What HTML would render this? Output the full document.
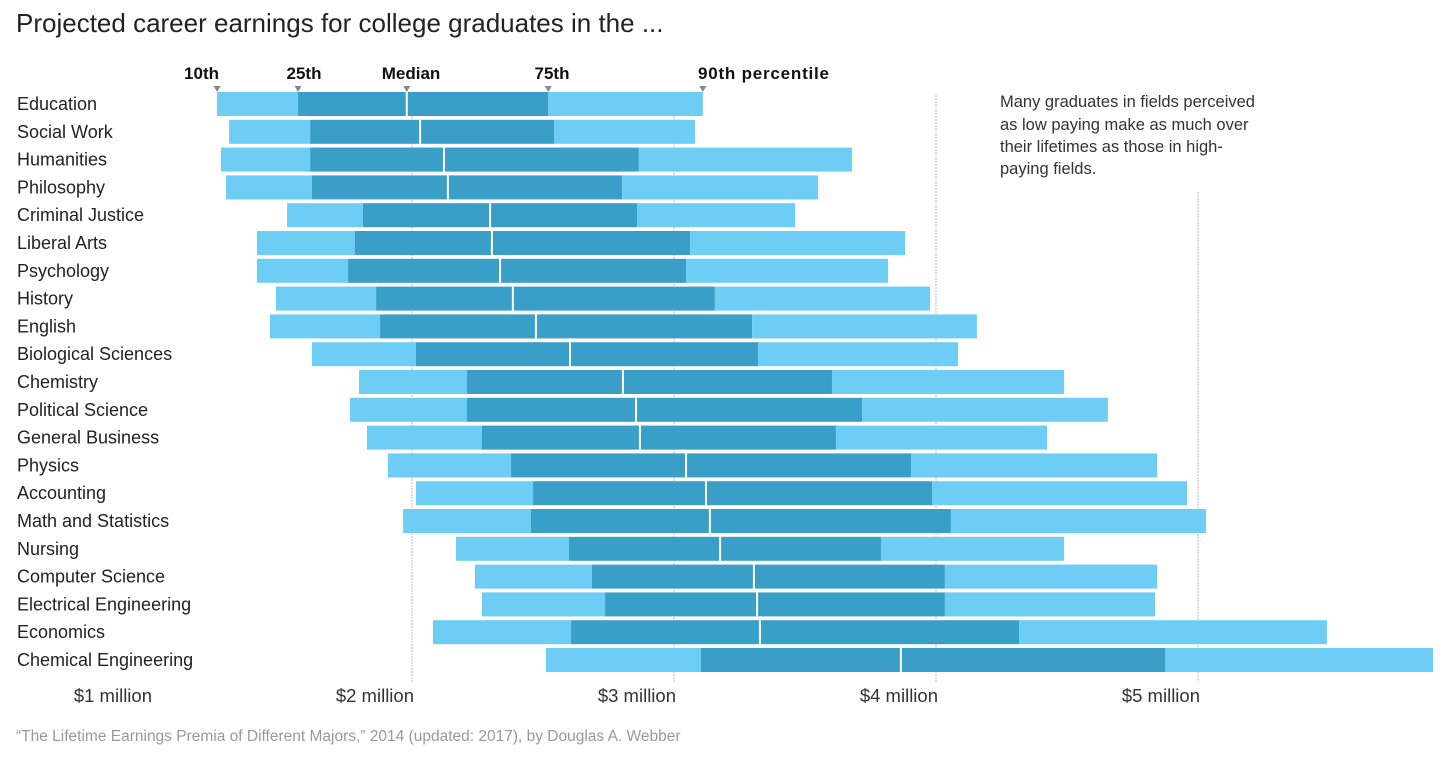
<!DOCTYPE html>
<html><head><meta charset="utf-8"><style>
body{margin:0;background:#fff;width:1454px;height:753px;overflow:hidden;font-family:"Liberation Sans",Arial,sans-serif;}
</style></head><body>
<svg id="chart" width="1454" height="753" xmlns="http://www.w3.org/2000/svg" font-family="Liberation Sans, Arial, sans-serif">
<text x="16" y="32" font-size="26" fill="#222">Projected career earnings for college graduates in the ...</text>
<g id="grid"></g><g id="bars"></g><g id="labels"></g>
<g font-size="17" font-weight="bold" fill="#111">
<text x="219" y="79" text-anchor="end">10th</text><text x="304" y="79" text-anchor="middle">25th</text><text x="411" y="79" text-anchor="middle">Median</text><text x="552" y="79" text-anchor="middle">75th</text><text x="698" y="79" textLength="131">90th percentile</text>
</g>
<g id="tri" fill="#888"></g>
<g font-size="16.5" fill="#333">
<text x="1000" y="107">Many graduates in fields perceived</text>
<text x="1000" y="130">as low paying make as much over</text>
<text x="1000" y="152">their lifetimes as those in high-</text>
<text x="1000" y="174">paying fields.</text>
</g>
<text x="16" y="741" font-size="15.5" fill="#999">“The Lifetime Earnings Premia of Different Majors,” 2014 (updated: 2017), by Douglas A. Webber</text>
</svg>
<script>
const majors=["Education","Social Work","Humanities","Philosophy","Criminal Justice","Liberal Arts","Psychology","History","English","Biological Sciences","Chemistry","Political Science","General Business","Physics","Accounting","Math and Statistics","Nursing","Computer Science","Electrical Engineering","Economics","Chemical Engineering"];
const p10=[1.256,1.302,1.271,1.290,1.523,1.408,1.408,1.481,1.458,1.618,1.798,1.763,1.828,1.908,2.015,1.966,2.168,2.240,2.267,2.080,2.511];
const p25=[1.565,1.611,1.611,1.618,1.813,1.782,1.756,1.863,1.878,2.015,2.210,2.210,2.267,2.378,2.462,2.454,2.599,2.687,2.737,2.607,3.103];
const p50=[1.980,2.031,2.122,2.137,2.298,2.305,2.336,2.385,2.473,2.603,2.805,2.855,2.870,3.046,3.122,3.137,3.176,3.305,3.317,3.328,3.866];
const p75=[2.520,2.542,2.866,2.802,2.859,3.061,3.046,3.156,3.298,3.321,3.603,3.718,3.618,3.905,3.985,4.057,3.790,4.034,4.034,4.317,4.874];
const p90=[3.110,3.080,3.679,3.550,3.462,3.882,3.817,3.977,4.156,4.084,4.489,4.656,4.424,4.844,4.958,5.031,4.489,4.844,4.836,5.492,5.897];
const ticks=[1,2,3,4,5];
const tickLabels=["$1 million","$2 million","$3 million","$4 million","$5 million"];
const NS="http://www.w3.org/2000/svg";
const x=v=>412+(v-2)*262;
const y=i=>104+i*27.8;
function mk(tag,attrs,parent){const e=document.createElementNS(NS,tag);for(const k in attrs)e.setAttribute(k,attrs[k]);document.getElementById(parent).appendChild(e);return e;}
ticks.forEach((t,i)=>{
  if(t>1){const l=mk('line',{x1:x(t),x2:x(t),y1:t==5?192:95,y2:682,stroke:'#bbb','stroke-width':1,'stroke-dasharray':'2,1'},'grid');
  
  }
  const tx=mk('text',{x:x(t)+2,y:702,'text-anchor':'end','font-size':18.5,fill:'#333'},'labels');
  tx.textContent=tickLabels[i];
  
  
});
majors.forEach((m,i)=>{
  const cy=y(i),h=24,top=cy-h/2;
  const segs=[[p10[i],p25[i],'#6dcdf4'],[p25[i],p75[i],'#3a9fc8'],[p75[i],p90[i],'#6dcdf4']];
  segs.forEach(s=>{const r=mk('rect',{x:x(s[0]),y:top,width:x(s[1])-x(s[0]),height:h,fill:s[2]},'bars');
    
    });
  const md=mk('rect',{x:x(p50[i])-1,y:top,width:2,height:h,fill:'#fff'},'bars');
  
  
  const t=mk('text',{x:17,y:cy+6,'font-size':18,fill:'#222'},'labels');
  t.textContent=m;
  
  
});
[p10[0],p25[0],p50[0],p75[0],p90[0]].forEach(v=>{
  const tr=mk('polygon',{points:`${x(v)-3.5},86 ${x(v)+3.5},86 ${x(v)},92`},'tri');
  
  
});
</script>
</body></html>
